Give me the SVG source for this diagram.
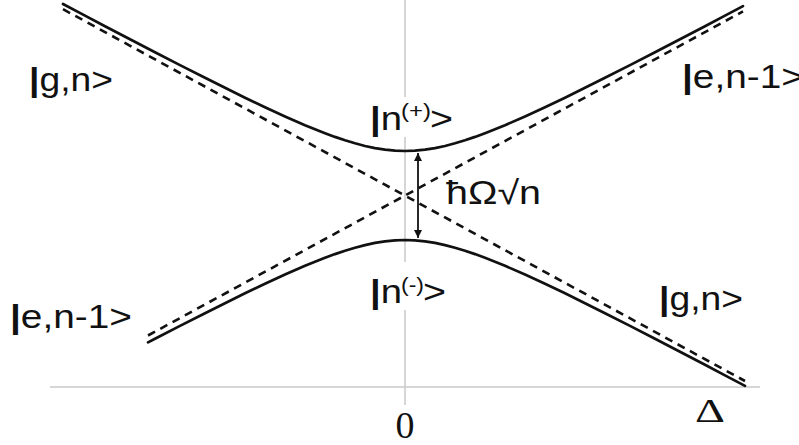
<svg xmlns="http://www.w3.org/2000/svg" width="799" height="445" viewBox="0 0 799 445">
<style>
.axis{stroke:#c8c8c8;stroke-width:1.5;fill:none}
.curve{stroke:#111;stroke-width:2.7;fill:none;stroke-linejoin:round;stroke-linecap:round}
.dash{stroke:#111;stroke-width:2.6;fill:none;stroke-dasharray:8 6}
.lbl{font-family:"Liberation Sans",Arial,sans-serif;font-size:33px;fill:#111}
.bar{font-weight:bold}
.sup{font-size:21px}
.ser{font-family:"Liberation Serif","Times New Roman",serif;fill:#111}
</style>
<defs>
<marker id="ah" viewBox="0 0 10 10" refX="10" refY="5" markerWidth="8" markerHeight="10" markerUnits="userSpaceOnUse" orient="auto-start-reverse">
<path d="M0,0 L10,5 L0,10 z" fill="#111"/>
</marker>
</defs>
<rect width="799" height="445" fill="#fff"/>
<g id="axes">
<line class="axis" x1="50" y1="387" x2="760" y2="387"/>
<line class="axis" x1="405" y1="0" x2="405" y2="97"/>
<line class="axis" x1="405" y1="137" x2="405" y2="262"/>
<line class="axis" x1="405" y1="310" x2="405" y2="405"/>
</g>
<g id="connectors">
<line class="dash" x1="63" y1="9.2" x2="745" y2="381"/>
<line class="dash" x1="148" y1="335.5" x2="743" y2="11.4"/>
<polyline id="upper" class="curve" points="63,4 85,15.6 105,26.2 130,39.3 155,52.3 180,65.1 205,77.8 225,87.8 245,97.7 265,107.2 285,116.4 305,125.2 315,129.3 325,133.2 335,136.9 345,140.3 355,143.3 365,146 375,148.1 385,149.7 395,150.7 405,151 415,150.7 425,149.7 435,148.1 445,146 455,143.3 465,140.3 475,136.9 485,133.2 495,129.3 505,125.2 525,116.4 545,107.2 565,97.7 585,87.8 605,77.8 630,65.1 655,52.3 680,39.3 705,26.2 725,15.6 743,6.1"/>
<polyline id="lower" class="curve" points="148,342.4 155,338.7 180,325.9 205,313.2 225,303.2 245,293.3 265,283.8 285,274.6 305,265.8 315,261.7 325,257.8 335,254.1 345,250.7 355,247.7 365,245.1 375,242.9 385,241.3 395,240.3 405,240 415,240.3 425,241.3 435,242.9 445,245.1 455,247.7 465,250.7 475,254.1 485,257.8 495,261.7 505,265.8 525,274.6 545,283.8 565,293.3 585,303.2 605,313.2 630,325.9 655,338.7 680,351.7 705,364.8 725,375.4 745,385.9"/>
<line id="gap" x1="418" y1="153" x2="418" y2="238" stroke="#111" stroke-width="1.8" marker-start="url(#ah)" marker-end="url(#ah)"/>
</g>
<g id="label-gn-left"><text class="lbl" x="29" y="91" textLength="84" lengthAdjust="spacingAndGlyphs"><tspan class="bar">|</tspan>g,n&gt;</text></g>
<g id="label-en1-right"><text class="lbl" x="682" y="88" textLength="122" lengthAdjust="spacingAndGlyphs"><tspan class="bar">|</tspan>e,n-1&gt;</text></g>
<g id="label-en1-left"><text class="lbl" x="10" y="328" textLength="122" lengthAdjust="spacingAndGlyphs"><tspan class="bar">|</tspan>e,n-1&gt;</text></g>
<g id="label-gn-right"><text class="lbl" x="659" y="310" textLength="84" lengthAdjust="spacingAndGlyphs"><tspan class="bar">|</tspan>g,n&gt;</text></g>
<g id="label-nplus">
<text class="lbl" x="370" y="130" textLength="32" lengthAdjust="spacingAndGlyphs"><tspan class="bar">|</tspan>n</text>
<text class="lbl sup" x="401" y="118" textLength="30" lengthAdjust="spacingAndGlyphs">(+)</text>
<text class="lbl" x="430" y="130" textLength="23" lengthAdjust="spacingAndGlyphs">&gt;</text>
</g>
<g id="label-nminus">
<text class="lbl" x="370" y="303" textLength="32" lengthAdjust="spacingAndGlyphs"><tspan class="bar">|</tspan>n</text>
<text class="lbl sup" x="401" y="292" textLength="23" lengthAdjust="spacingAndGlyphs">(-)</text>
<text class="lbl" x="423" y="303" textLength="23" lengthAdjust="spacingAndGlyphs">&gt;</text>
</g>
<g id="label-gap"><text class="lbl" x="446" y="204" textLength="95" lengthAdjust="spacingAndGlyphs">ħΩ√n</text></g>
<g id="label-zero"><text class="ser" x="405" y="438" font-size="38" text-anchor="middle">0</text></g>
<g id="label-delta"><text class="ser" x="695" y="422" font-size="34" textLength="30" lengthAdjust="spacingAndGlyphs">Δ</text></g>
</svg>
